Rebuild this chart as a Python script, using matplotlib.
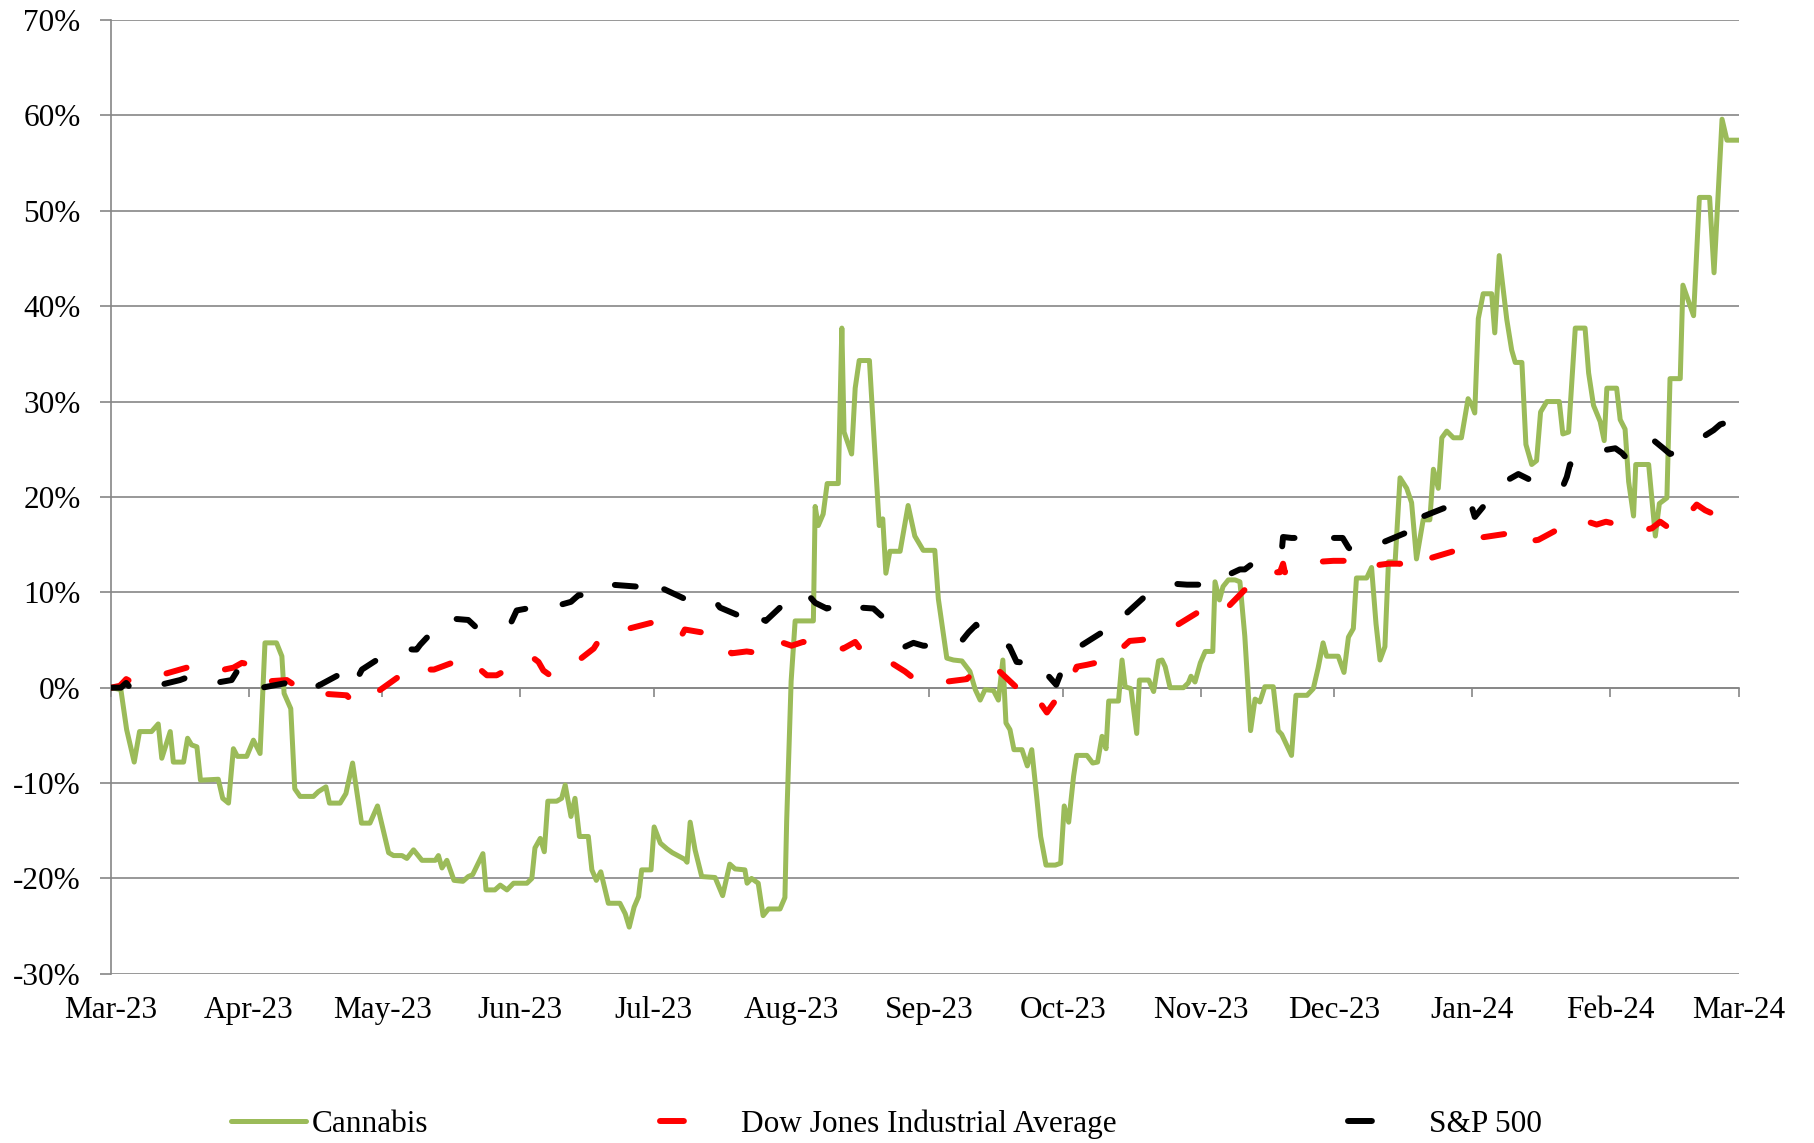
import numpy as np
import pandas as pd
import matplotlib
matplotlib.use("Agg")
import matplotlib.pyplot as plt
import matplotlib.dates as mdates
from matplotlib.ticker import FuncFormatter

# Cumulative return since 1 Mar 2023 (%), x given as days after 2023-03-01
start = pd.Timestamp("2023-03-01")

cannabis_day = [0, 2.2, 3.5, 5.2, 6.4, 9.1, 10.6, 11.4, 13.3, 14.0, 16.3, 17.2, 18.1, 19.3, 20.1, 24.1,
                25.1, 26.4, 27.5, 28.4, 30.5, 32.0, 33.5, 34.6, 37.2, 38.4, 38.9, 40.4, 41.3, 42.5, 45.5,
                46.6, 48.3, 49.1, 51.5, 52.8, 54.3, 56.3, 58.2, 59.9, 62.4, 63.5, 65.4, 66.5, 68.0, 69.9,
                72.9, 73.6, 74.4, 75.5, 77.1, 79.1, 80.3, 81.3, 83.6, 84.3, 86.3, 87.5, 89.0, 90.5, 93.5,
                94.6, 95.3, 96.5, 97.4, 98.2, 100.2, 101.3, 102.1, 103.4, 104.3, 105.3, 107.3, 108.1,
                109.1, 110.1, 111.8, 114.4, 115.6, 116.5, 117.6, 118.6, 119.3, 121.4, 122.1, 123.5, 125.0,
                126.2, 129.0, 129.5, 130.2, 131.3, 132.8, 135.8, 137.5, 139.1, 140.3, 142.5, 143.0, 144.0,
                145.5, 146.6, 147.8, 150.4, 151.5, 151.9, 152.9, 153.8, 157.9, 158.3, 159.0, 160.1, 161.0,
                163.5, 164.3, 164.8, 166.5, 167.3, 168.2, 170.5, 172.7, 173.5, 174.2, 175.1, 177.4, 179.2,
                180.7, 182.6, 185.2, 186.0, 187.9, 189.4, 191.3, 193.1, 194.3, 195.4, 196.5, 198.4, 199.5,
                200.5, 201.2, 202.1, 203.0, 204.8, 206.0, 207.0, 208.1, 209.0, 210.2, 212.3, 213.5, 214.3,
                215.3, 216.4, 217.1, 219.4, 220.7, 221.8, 222.8, 223.7, 224.3, 226.5, 227.3, 228.0, 229.3,
                230.6, 231.2, 233.3, 234.4, 235.5, 236.3, 237.0, 238.1, 241.1, 242.2, 242.8, 243.7, 244.9,
                246.0, 247.7, 248.2, 249.2, 250.0, 251.2, 252.7, 253.8, 254.9, 256.2, 257.2, 258.3, 259.4,
                261.3, 262.4, 263.2, 264.3, 265.4, 266.4, 268.9, 270.3, 271.4, 272.5, 273.3, 275.9, 277.2,
                278.2, 279.3, 280.0, 282.3, 283.4, 284.4, 285.3, 286.4, 287.2, 288.7, 289.8, 291.3, 292.4,
                293.5, 295.0, 296.5, 297.3, 298.4, 299.2, 300.3, 301.8, 303.6, 305.1, 305.9, 306.6, 307.4,
                308.5, 310.4, 311.1, 312.1, 313.8, 314.9, 315.7, 317.2, 318.1, 319.4, 320.5, 321.4, 322.8,
                325.6, 326.4, 327.7, 329.2, 331.4, 332.2, 333.3, 334.8, 335.7, 336.3, 338.5, 339.3, 340.4,
                341.2, 342.3, 342.8, 345.7, 347.2, 348.1, 349.8, 350.5, 352.8, 353.4, 355.8, 357.1, 359.4,
                360.4, 362.2, 363.3, 366.0]
cannabis_pct = [0.0, -0.2, -4.4, -7.8, -4.6, -4.6, -3.8, -7.4, -4.6, -7.8, -7.8, -5.3, -6.0, -6.2, -9.7, -9.6,
                -11.6, -12.1, -6.4, -7.2, -7.2, -5.5, -6.9, 4.7, 4.7, 3.3, -0.6, -2.2, -10.6, -11.4, -11.4,
                -10.9, -10.4, -12.1, -12.1, -11.1, -7.9, -14.2, -14.2, -12.4, -17.3, -17.6, -17.6, -17.9, -17.0, -18.1,
                -18.1, -17.6, -18.9, -18.1, -20.2, -20.3, -19.8, -19.6, -17.4, -21.2, -21.2, -20.7, -21.2, -20.5, -20.5,
                -20.0, -16.8, -15.8, -17.2, -11.9, -11.9, -11.6, -10.2, -13.5, -11.6, -15.6, -15.6, -19.1,
                -20.2, -19.3, -22.6, -22.6, -23.7, -25.1, -23.0, -21.9, -19.1, -19.1, -14.6, -16.3, -16.9,
                -17.3, -18.0, -18.3, -14.1, -17.0, -19.8, -19.9, -21.8, -18.5, -19.0, -19.1, -20.5, -20.0,
                -20.5, -23.9, -23.2, -23.2, -22.0, -13.9, 0.7, 7.0, 7.0, 19.0, 17.0, 18.2, 21.4,
                21.4, 37.7, 26.8, 24.5, 31.4, 34.3, 34.3, 17.0, 17.7, 12.0, 14.3, 14.3, 19.1,
                15.9, 14.4, 14.4, 9.3, 3.1, 2.9, 2.8, 1.7, -0.2, -1.3, -0.2, -0.3, -1.3,
                2.9, -3.7, -4.4, -6.5, -6.5, -8.2, -6.5, -11.4, -15.6, -18.6, -18.6, -18.4, -12.4,
                -14.1, -9.3, -7.1, -7.1, -7.9, -7.8, -5.1, -6.4, -1.4, -1.4, 2.9, 0.1, -0.1,
                -4.8, 0.8, 0.8, -0.4, 2.8, 2.9, 2.2, 0.0, 0.0, 0.5, 1.2, 0.6, 2.6,
                3.8, 3.8, 11.1, 9.2, 10.6, 11.3, 11.3, 11.1, 5.4, -4.5, -1.2, -1.5, 0.1,
                0.1, -4.5, -4.9, -6.0, -7.1, -0.8, -0.8, -0.1, 2.1, 4.7, 3.3, 3.3, 1.6,
                5.3, 6.2, 11.5, 11.5, 12.6, 6.7, 2.9, 4.3, 13.2, 13.2, 22.0, 20.9, 19.4,
                13.5, 17.6, 17.6, 22.9, 20.9, 26.2, 26.9, 26.2, 26.2, 30.3, 29.7, 28.8, 38.7,
                41.3, 41.3, 37.2, 45.3, 38.6, 35.4, 34.1, 34.1, 25.5, 23.4, 23.8, 28.9, 30.0,
                30.0, 26.6, 26.8, 37.7, 37.7, 33.0, 29.6, 27.9, 25.9, 31.4, 31.4, 28.1, 27.1,
                21.6, 18.0, 23.4, 23.4, 15.9, 19.3, 19.9, 32.4, 32.4, 42.2, 39.0, 51.4, 51.4,
                43.5, 59.6, 57.4, 57.4]

dow_day = [0, 2.0, 3.4, 4.6, 6.5, 14.0, 17.0, 19.3, 20.0, 22.3, 27.5, 29.4, 31.6, 33.1, 39.5, 41.8, 44.8,
           46.6, 53.0, 54.5, 56.4, 59.7, 65.1, 66.9, 68.7, 70.2, 72.6, 80.1, 81.5, 83.0, 84.5, 86.7,
           94.4, 96.1, 97.2, 98.7, 100.8, 108.5, 110.0, 112.2, 114.8, 123.1, 124.5, 126.4, 128.3, 129.0,
           136.5, 138.4, 139.5, 142.9, 149.3, 151.1, 153.0, 155.6, 164.6, 167.3, 168.4, 170.6, 178.5,
           180.4, 183.4, 185.6, 192.4, 193.9, 195.4, 198.0, 199.3, 205.7, 207.8, 208.9, 210.4, 216.2,
           217.1, 219.4, 221.3, 222.8, 229.0, 231.4, 233.3, 234.8, 236.3, 244.0, 245.6, 247.9, 249.7,
           251.2, 257.9, 259.8, 262.8, 263.5, 263.9, 271.4, 274.8, 277.4, 278.9, 287.2, 289.8, 292.0,
           293.9, 302.5, 304.4, 305.5, 307.4, 316.0, 318.7, 319.4, 320.9, 327.7, 330.7, 334.0, 336.1,
           344.2, 346.4, 348.3, 351.3, 356.5, 358.4, 360.3, 362.2, 366.0]
dow_pct = [0.0, 0.2, 0.9, 0.6, 0.7, 1.7, 2.1, 1.9, 1.7, 1.6, 2.1, 2.6, 2.4, 0.6, 0.8, 0.1, 0.0,
           -0.6, -0.8, -1.6, -0.6, -0.5, 1.3, 0.8, 1.2, 1.9, 1.9, 3.2, 2.1, 1.9, 1.3, 1.3,
           3.3, 2.7, 1.8, 1.3, 1.3, 4.1, 5.2, 5.9, 6.0, 7.0, 6.0, 5.5, 5.5, 6.1,
           5.5, 4.1, 3.6, 3.8, 3.4, 4.7, 4.4, 4.8, 4.1, 4.8, 4.1, 4.0, 1.7,
           1.0, 0.8, 0.5, 0.9, 1.6, 1.1, 1.1, 1.9, -0.9, -0.5, -1.6, -2.6, 1.2,
           2.2, 2.4, 2.6, 2.2, 4.9, 5.0, 5.1, 5.5, 5.6, 7.8, 8.8, 8.9, 8.7,
           8.5, 11.7, 12.1, 12.1, 13.0, 12.1, 13.2, 13.3, 13.3, 12.5, 13.0, 13.0, 12.2,
           13.2, 14.4, 15.2, 14.8, 15.7, 16.3, 16.5, 15.4, 15.5, 17.2, 17.6, 17.1, 17.4,
           16.5, 16.7, 17.4, 16.4, 19.2, 18.6, 18.2, 19.1, 19.3]

sp_day = [0, 2.2, 3.4, 5.0, 6.1, 7.6, 15.5, 17.8, 18.9, 20.0, 23.4, 27.1, 28.3, 30.1, 32.0, 32.8, 39.5,
          41.8, 44.8, 45.9, 46.6, 52.6, 54.5, 56.4, 62.7, 65.0, 68.0, 68.7, 69.5, 75.5, 77.7, 80.3,
          82.6, 89.9, 91.2, 93.5, 95.0, 96.5, 103.4, 105.1, 107.3, 109.6, 118.2, 119.7, 122.0, 124.0,
          130.9, 133.1, 135.8, 136.9, 144.0, 145.1, 145.9, 147.2, 153.8, 156.4, 158.3, 160.9, 167.5,
          168.4, 171.4, 173.3, 178.5, 180.4, 182.6, 185.2, 190.9, 192.8, 194.5, 196.0, 202.0, 203.6,
          205.9, 207.2, 212.5, 214.1, 216.0, 222.8, 223.9, 225.8, 227.6, 234.4, 235.9, 238.9, 241.9,
          250.0, 251.5, 253.8, 254.9, 256.6, 263.2, 263.5, 265.4, 267.1, 276.9, 278.2, 279.3, 280.8,
          282.7, 290.9, 292.4, 293.5, 294.7, 303.3, 304.8, 305.9, 306.6, 312.6, 314.5, 316.4, 319.0,
          324.9, 326.5, 327.3, 328.0, 335.7, 338.2, 339.7, 341.2, 346.9, 349.0, 350.5, 353.2, 360.3,
          361.8, 364.0, 366.0]
sp_pct = [0.0, 0.0, 0.5, -0.4, -0.4, -0.1, 0.8, 1.2, 1.4, 0.8, 0.5, 0.8, 1.7, 1.9, 1.0, -0.1, 0.5,
          0.2, 0.3, 0.8, 0.2, 1.7, 0.2, 1.9, 3.8, 4.1, 4.0, 4.0, 4.5, 7.5, 7.2, 7.1,
          6.1, 6.8, 8.1, 8.3, 8.5, 8.1, 9.0, 9.7, 9.7, 10.9, 10.6, 11.5, 11.7, 10.4,
          8.9, 8.6, 9.1, 8.4, 7.0, 8.0, 7.3, 7.0, 9.9, 9.9, 8.9, 8.3, 9.1,
          8.4, 8.3, 7.5, 4.3, 4.7, 4.4, 4.4, 4.7, 5.8, 6.6, 5.6, 4.3, 2.7,
          2.6, 3.1, 0.3, 2.2, 3.8, 5.8, 7.3, 7.5, 7.5, 10.4, 10.8, 10.9, 10.8,
          10.8, 11.9, 12.4, 12.4, 13.0, 14.3, 15.8, 15.7, 15.7, 15.7, 14.7, 14.2, 14.3,
          14.6, 16.2, 15.4, 16.8, 17.9, 19.5, 20.0, 19.0, 17.9, 21.3, 21.9, 22.4, 21.8,
          21.9, 21.2, 22.1, 23.4, 24.9, 25.1, 24.6, 23.8, 25.9, 25.1, 24.5, 24.9, 27.0,
          27.6, 27.9, 27.9]

labels = ["Cannabis", "Dow Jones Industrial Average", "S&P 500"]


def to_dates(days):
    return start + pd.to_timedelta(np.array(days), unit="D")


plt.rcParams["font.family"] = ["Liberation Serif", "DejaVu Serif"]
plt.rcParams["font.size"] = 22.5
grey = "#868686"

fig = plt.figure(figsize=(18.15, 11.43), dpi=100)
ax = fig.add_axes([0.0612, 0.148, 0.8969, 0.8345])

dash = (0, (3.5, 6.6))
ax.plot(to_dates(cannabis_day), cannabis_pct, color="#9BBB59", lw=3.6,
        solid_joinstyle="round", solid_capstyle="round", label=labels[0], zorder=3)
ax.plot(to_dates(dow_day), dow_pct, color="#FF0000", lw=4.3, ls=dash,
        dash_capstyle="round", dash_joinstyle="round", label=labels[1], zorder=4)
ax.plot(to_dates(sp_day), sp_pct, color="black", lw=4.3, ls=dash,
        dash_capstyle="round", dash_joinstyle="round", label=labels[2], zorder=5)

ax.set_ylim(-30, 70)
ax.set_yticks(range(-30, 71, 10))
ax.yaxis.set_major_formatter(FuncFormatter(lambda v, p: f"{v:.0f}%"))
ax.set_xlim(start, pd.Timestamp("2024-03-01"))
ax.yaxis.grid(True, color=grey, lw=1.2)
ax.set_axisbelow(True)

for s in ["top", "right"]:
    ax.spines[s].set_visible(False)
ax.spines["left"].set_color(grey)
ax.spines["left"].set_linewidth(1.2)
ax.spines["bottom"].set_position(("data", 0))
ax.spines["bottom"].set_color(grey)
ax.spines["bottom"].set_linewidth(1.2)

ax.xaxis.set_major_locator(mdates.MonthLocator())
ax.tick_params(axis="x", direction="out", length=6.5, width=1.2, color=grey, labelbottom=False)
ax.tick_params(axis="y", direction="out", length=8, width=1.2, color=grey, pad=14)

# month labels sit under the plot, ticks stay on the 0% line
sec = ax.secondary_xaxis(0.0)
sec.xaxis.set_major_locator(mdates.MonthLocator())
sec.xaxis.set_major_formatter(mdates.DateFormatter("%b-%y"))
sec.spines["bottom"].set_visible(False)
sec.tick_params(axis="x", length=0, pad=16)

leg = fig.legend(loc="center left", bbox_to_anchor=(231 / 1815, 0.0166), ncol=3, frameon=False,
                 handlelength=2.4, handletextpad=0.2, columnspacing=7.4,
                 borderpad=0, borderaxespad=0)
for h in leg.legend_handles[1:]:
    h.set_linestyle((0, (4.0, 20)))

fig.savefig("out.png", dpi=100)
